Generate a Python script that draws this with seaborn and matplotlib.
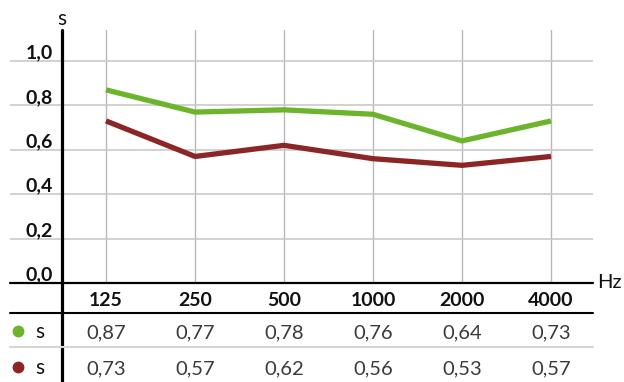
import numpy as np
import pandas as pd
import matplotlib
matplotlib.use("Agg")
import matplotlib.pyplot as plt
import matplotlib.transforms as mtransforms
from matplotlib.lines import Line2D
import seaborn as sns

# ---- data ----
freqs = ["125", "250", "500", "1000", "2000", "4000"]
green_vals = [0.87, 0.77, 0.78, 0.76, 0.64, 0.73]
red_vals = [0.73, 0.57, 0.62, 0.56, 0.53, 0.57]
series_names = ["s_green", "s_red"]
row_label = "s"
y_ticks = [0.0, 0.2, 0.4, 0.6, 0.8, 1.0]
y_unit = "s"
x_unit = "Hz"

GREEN = "#6cb42c"
RED = "#8c2626"

sns.set_theme(style="white")
plt.rcParams['font.family'] = ['Lato', 'DejaVu Sans']

W, H = 624, 382
fig = plt.figure(figsize=(W / 100, H / 100), dpi=100)

def fx(p):
    return p / W

def fy(p):
    return 1 - p / H

# axes: x 10..593 px, y 30..283 px
ax = fig.add_axes([fx(10), fy(283), fx(593) - fx(10), fy(30) - fy(283)])

pos = np.arange(len(freqs))
df = pd.DataFrame({
    "x": np.concatenate([pos, pos]),
    "y": green_vals + red_vals,
    "series": [series_names[0]] * len(freqs) + [series_names[1]] * len(freqs),
})
sns.lineplot(data=df, x="x", y="y", hue="series", palette=[GREEN, RED],
             linewidth=3.8, legend=False, ax=ax, zorder=3,
             solid_capstyle="butt")

# scales
ax.set_xlim(-96 / 89, 5 + 42 / 89)
ax.set_ylim(0, 253 / 222)
for s in ax.spines.values():
    s.set_visible(False)

# gridlines
for v in y_ticks[1:]:
    ax.axhline(v, color="#c9c9c9", lw=1.2, zorder=1)
ax.axhline(0, color="black", lw=1.6, zorder=2, clip_on=False)
ax.set_xticks(pos, freqs)
ax.grid(axis="x", color="#b8b8b8", lw=1.0, zorder=1)
ax.grid(axis="y", visible=False)
ax.set_yticks([])
ax.set_xlabel("")
ax.set_ylabel("")
ax.tick_params(axis="x", length=0, pad=16.5, labelsize=14)
for lbl in ax.get_xticklabels():
    lbl.set_fontweight("bold")
    lbl.set_va("baseline")
    lbl.set_color("#111111")

# y tick labels (inside left margin)
ytr = mtransforms.blended_transform_factory(fig.transFigure, ax.transData)
for v in y_ticks:
    ax.text(fx(53), v + 2.5 / 222, f"{v:.1f}".replace(".", ","), transform=ytr,
            ha="right", va="baseline", fontsize=14, fontweight="bold",
            color="#111111")

# y-axis black line
fig.add_artist(Line2D([fx(62), fx(62)], [0, fy(30)], color="black", lw=2.3))

# unit labels
fig.text(fx(62), fy(25), y_unit, ha="center", va="baseline", fontsize=15, color="#111111")
fig.text(fx(597), fy(283), x_unit, ha="left", va="center", fontsize=14.5, color="#111111")

# table lines
fig.add_artist(Line2D([fx(10), fx(593)], [fy(313), fy(313)], color="black", lw=1.5))
fig.add_artist(Line2D([fx(10), fx(593)], [fy(347), fy(347)], color="#d6d6d6", lw=1.5))

# table rows
ttr = mtransforms.blended_transform_factory(ax.transData, fig.transFigure)
rows = [(green_vals, GREEN, 338.5), (red_vals, RED, 374)]
for vals, col, base in rows:
    fig.add_artist(Line2D([fx(18)], [fy(base - 7.5)], marker="o", markersize=7.5,
                          markerfacecolor=col, markeredgecolor=col, linestyle="none"))
    fig.text(fx(40), fy(base), row_label, ha="center", va="baseline",
             fontsize=15, color="#111111")
    for i, v in enumerate(vals):
        ax.text(pos[i], fy(base), f"{v:.2f}".replace(".", ","), transform=ttr,
                ha="center", va="baseline", fontsize=14.5, fontweight="normal",
                color="#3a3a3a", clip_on=False)

fig.savefig("out.png", dpi=100)
